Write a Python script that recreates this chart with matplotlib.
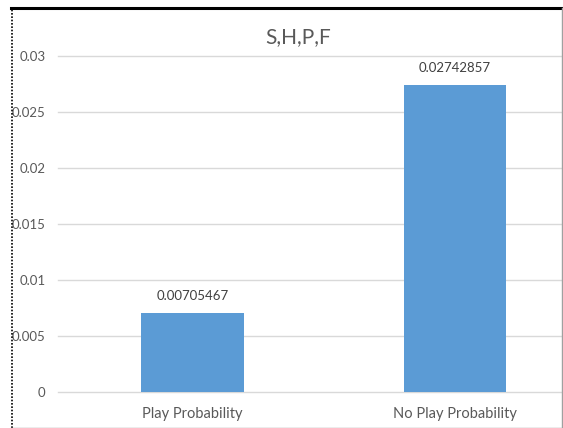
import matplotlib
matplotlib.use("Agg")
from matplotlib import pyplot as plt
from matplotlib.lines import Line2D

# Dados do gráfico
categorias = ["Play Probability", "No Play Probability"]
valores = [0.00705467, 0.02742857]
rotulos = ["0.00705467", "0.02742857"]
ticks_y = [0, 0.005, 0.01, 0.015, 0.02, 0.025, 0.03]
ticks_y_txt = ["0", "0.005", "0.01", "0.015", "0.02", "0.025", "0.03"]

plt.rcParams['font.family'] = ['Lato', 'DejaVu Sans']
cinza = "#595959"

W, H = 563, 428
fig = plt.figure(figsize=(W / 100, H / 100), dpi=100)
fig.patch.set_facecolor("white")

# Area do grafico em pixels
esq, dir_, topo, base = 58, 563, 56, 392
ax = fig.add_axes([esq / W, 1 - base / H, (dir_ - esq) / W, (base - topo) / H])

x = [0, 1]
ax.bar(x, valores, width=0.39, color="#5b9bd5", zorder=3)
for xi, v, r in zip(x, valores, rotulos):
    ax.annotate(r, (xi, v), xytext=(0, 8), textcoords="offset points",
                ha="center", va="bottom", fontsize=9.5, color="#404040")

ax.set_xlim(-0.512, 1.412)
ax.set_ylim(0, 0.03)
ax.set_yticks(ticks_y)
ax.set_yticklabels(ticks_y_txt)
ax.set_xticks(x)
ax.set_xticklabels(categorias)
ax.tick_params(axis="y", length=0, pad=9, labelsize=9.5, labelcolor=cinza)
ax.tick_params(axis="x", length=0, pad=11, labelsize=10.5, labelcolor=cinza)
ax.grid(axis="y", color="#d9d9d9", linewidth=1, zorder=0)
for g in ax.get_ygridlines():
    g.set_clip_on(False)
for s in ax.spines.values():
    s.set_visible(False)

fig.text(298 / W, 1 - 37 / H, "S,H,P,F", ha="center", va="center",
         fontsize=15, color=cinza)

# Moldura
fig.add_artist(Line2D([11 / W, 1], [1 - 8 / H, 1 - 8 / H], color="black", linewidth=2.2))
fig.add_artist(Line2D([11.5 / W, 11.5 / W], [0, 1 - 8 / H], color="black",
                      linewidth=1.2, linestyle=(0, (1, 1))))
fig.add_artist(Line2D([561.5 / W, 561.5 / W], [0, 1 - 8 / H], color="#a0a0a0", linewidth=1))
fig.add_artist(Line2D([11 / W, 1], [0.5 / H, 0.5 / H], color="#a0a0a0", linewidth=1))

fig.savefig("out.png", dpi=100)
